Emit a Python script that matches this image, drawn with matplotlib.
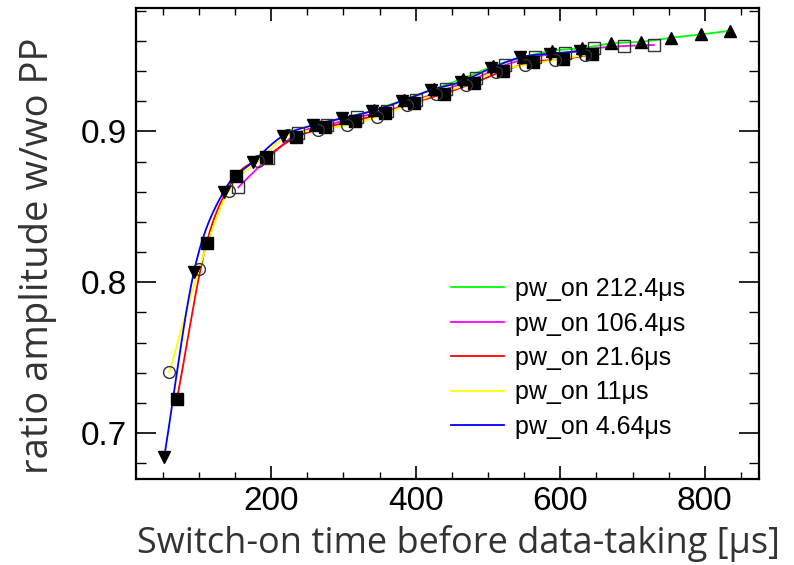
import numpy as np
import matplotlib
matplotlib.use("Agg")
import matplotlib.pyplot as plt
from matplotlib.lines import Line2D
from matplotlib.ticker import MultipleLocator

# ---- data ----
labels = ["pw_on 212.4\u03bcs", "pw_on 106.4\u03bcs", "pw_on 21.6\u03bcs",
          "pw_on 11\u03bcs", "pw_on 4.64\u03bcs"]
colors = ["#00ff00", "#ff00ff", "#ff0000", "#ffff00", "#0000ff"]

x_2124 = [260.4, 301.5, 342.5, 383.6, 424.6, 465.7, 506.7, 547.8, 588.8, 629.9, 670.9, 712.0, 753.0, 794.1, 835.2]
y_2124 = [0.9045, 0.9090, 0.9140, 0.9210, 0.9280, 0.9350, 0.9430, 0.9490, 0.9534, 0.9550, 0.9583, 0.9593, 0.9620, 0.9642, 0.9666]

x_1064 = [154.4, 195.5, 236.5, 277.6, 318.6, 359.7, 400.8, 441.8, 482.9, 523.9, 565.0, 606.0, 647.1, 688.1, 729.2]
y_1064 = [0.8629, 0.8821, 0.8987, 0.9042, 0.9093, 0.9134, 0.9207, 0.9278, 0.9351, 0.9439, 0.9494, 0.9520, 0.9550, 0.9565, 0.9572]

x_216 = [69.6, 110.7, 151.7, 192.8, 233.8, 274.9, 316.0, 357.0, 398.1, 439.1, 480.2, 521.2, 562.3, 603.3, 644.4]
y_216 = [0.7225, 0.8262, 0.8704, 0.8832, 0.8960, 0.9026, 0.9070, 0.9123, 0.9190, 0.9250, 0.9320, 0.9400, 0.9460, 0.9477, 0.9510]

x_11 = [59.0, 100.1, 141.1, 182.2, 223.2, 264.3, 305.4, 346.4, 387.5, 428.5, 469.6, 510.6, 551.7, 592.7, 633.8]
y_11 = [0.7404, 0.8088, 0.8607, 0.8803, 0.8975, 0.9009, 0.9042, 0.9097, 0.9174, 0.9247, 0.9307, 0.9395, 0.9440, 0.9472, 0.9505]

x_464 = [52.0, 93.1, 134.1, 175.2, 216.2, 257.3, 298.4, 339.4, 380.5, 421.5, 462.6, 503.6, 544.7, 585.7, 626.8]
y_464 = [0.6843, 0.8070, 0.8600, 0.8800, 0.8970, 0.9040, 0.9086, 0.9134, 0.9200, 0.9274, 0.9328, 0.9417, 0.9490, 0.9515, 0.9530]

xs = [x_2124, x_1064, x_216, x_11, x_464]
ys = [y_2124, y_1064, y_216, y_11, y_464]
markers = ["^", "s", "s", "o", "v"]
filled = [True, False, True, False, True]

x_ticks = [200, 400, 600, 800]
y_ticks = [0.7, 0.8, 0.9]


def smooth(x, y, n=20):
    """Catmull-Rom curve through the points (rendering of the line only)."""
    x = np.asarray(x, float); y = np.asarray(y, float)
    P = np.column_stack([x, y])
    P = np.vstack([2 * P[0] - P[1], P, 2 * P[-1] - P[-2]])
    out = []
    t = np.linspace(0, 1, n, endpoint=False)[:, None]
    for i in range(1, len(P) - 2):
        p0, p1, p2, p3 = P[i - 1], P[i], P[i + 1], P[i + 2]
        c = 0.5 * ((2 * p1) + (-p0 + p2) * t + (2 * p0 - 5 * p1 + 4 * p2 - p3) * t ** 2
                   + (-p0 + 3 * p1 - 3 * p2 + p3) * t ** 3)
        out.append(c)
    out.append(P[-2][None, :])
    C = np.vstack(out)
    return C[:, 0], C[:, 1]


fig = plt.figure(figsize=(7.94, 5.65), dpi=100)
ax = fig.add_axes([0.1709, 0.1522, 0.9559 - 0.1709, 0.9853 - 0.1522])

for x, y, c, m, f in zip(xs, ys, colors, markers, filled):
    sx, sy = smooth(x, y)
    ax.plot(sx, sy, color=c, lw=1.3, zorder=2)
for x, y, c, m, f in zip(xs, ys, colors, markers, filled):
    if f:
        ax.plot(x, y, ls="none", marker=m, ms=8, mfc="black", mec="black", zorder=3)
    else:
        ax.plot(x, y, ls="none", marker=m, ms=8.5, mfc="none", mec="#333333", mew=1.0, zorder=3)

ax.set_xlim(12.5, 875)
ax.set_ylim(0.6697, 0.9815)
ax.set_xticks(x_ticks)
ax.set_yticks(y_ticks)
ax.set_xticklabels([str(v) for v in x_ticks])
ax.set_yticklabels([f"{v:.1f}" for v in y_ticks])
ax.xaxis.set_minor_locator(MultipleLocator(50))
ax.yaxis.set_minor_locator(MultipleLocator(0.02))

for s in ax.spines.values():
    s.set_linewidth(1.6)
ax.tick_params(axis="x", which="major", direction="in", length=9.4, width=1.2,
               top=True, bottom=True, labelsize=24, pad=5)
ax.tick_params(axis="x", which="minor", direction="in", length=4.7, width=1.0,
               top=True, bottom=True)
ax.tick_params(axis="y", which="major", direction="in", length=14.4, width=1.2,
               left=True, right=True, labelsize=24, pad=6)
ax.tick_params(axis="y", which="minor", direction="in", length=7.2, width=1.0,
               left=True, right=True)
for lab in ax.get_xticklabels() + ax.get_yticklabels():
    lab.set_family("Liberation Sans")

fig.text(0.577, 1 - 543 / 565, "Switch-on time before data-taking [\u03bcs]",
         ha="center", va="center", fontsize=26, color="#333333", family="Open Sans")
fig.text(38 / 794, 1 - 256 / 565, "ratio amplitude w/wo PP", rotation=90,
         ha="center", va="center", fontsize=27.5, color="#333333", family="Open Sans")

handles = [Line2D([], [], color=c, lw=1.3) for c in colors]
leg = ax.legend(handles, labels, loc="upper left",
                bbox_to_anchor=(451 / 794, 1 - 277 / 565), bbox_transform=fig.transFigure,
                frameon=False, borderpad=0, borderaxespad=0, handlelength=2.1,
                handletextpad=0.45, labelspacing=0.42,
                prop={"family": "Liberation Sans", "size": 18})

fig.savefig("out.png", dpi=100)
